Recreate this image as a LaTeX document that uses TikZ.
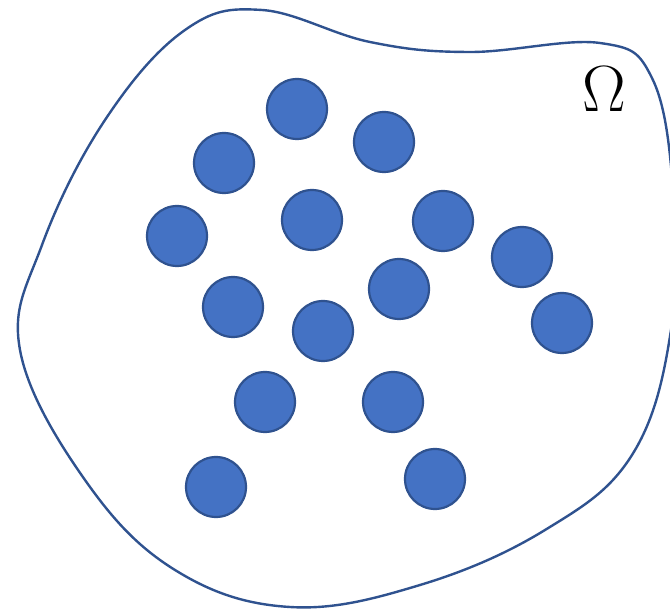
\documentclass[tikz,border=0pt]{standalone}
\definecolor{dotfill}{HTML}{4472C4}
\definecolor{dotedge}{HTML}{2F528F}
\begin{document}
\begin{tikzpicture}[x=1pt,y=-1pt,
  dot/.style={circle, fill=dotfill, draw=dotedge, line width=2.2pt, minimum size=60pt, inner sep=0pt},
  blob/.style={draw=dotedge, line width=2.4pt}]
\useasboundingbox (0,0) rectangle (670,612);
\draw[blob] plot[smooth cycle, tension=0.65] coordinates {
 (262,10) (370,42) (470,52) (600,43) (652,78) (673,190) (671,330) (632,455)
 (545,530) (420,585) (290,607) (175,570) (85,480) (20,350) (42,245) (105,120) (185,30)};
\node[dot] (c1) at (297,109) {};
\node[dot] (c2) at (384,142) {};
\node[dot] (c3) at (224,163) {};
\node[dot] (c4) at (312,220) {};
\node[dot] (c5) at (443,221) {};
\node[dot] (c6) at (177,236) {};
\node[dot] (c7) at (522,257) {};
\node[dot] (c8) at (233,307) {};
\node[dot] (c9) at (399,289) {};
\node[dot] (c10) at (323,331) {};
\node[dot] (c11) at (562,323) {};
\node[dot] (c12) at (265,402) {};
\node[dot] (c13) at (393,402) {};
\node[dot] (c14) at (216,487) {};
\node[dot] (c15) at (435,479) {};
\node[scale=3.15, inner sep=0pt] (omega) at (604,89) {\huge$\Omega$};
\end{tikzpicture}
\end{document}
